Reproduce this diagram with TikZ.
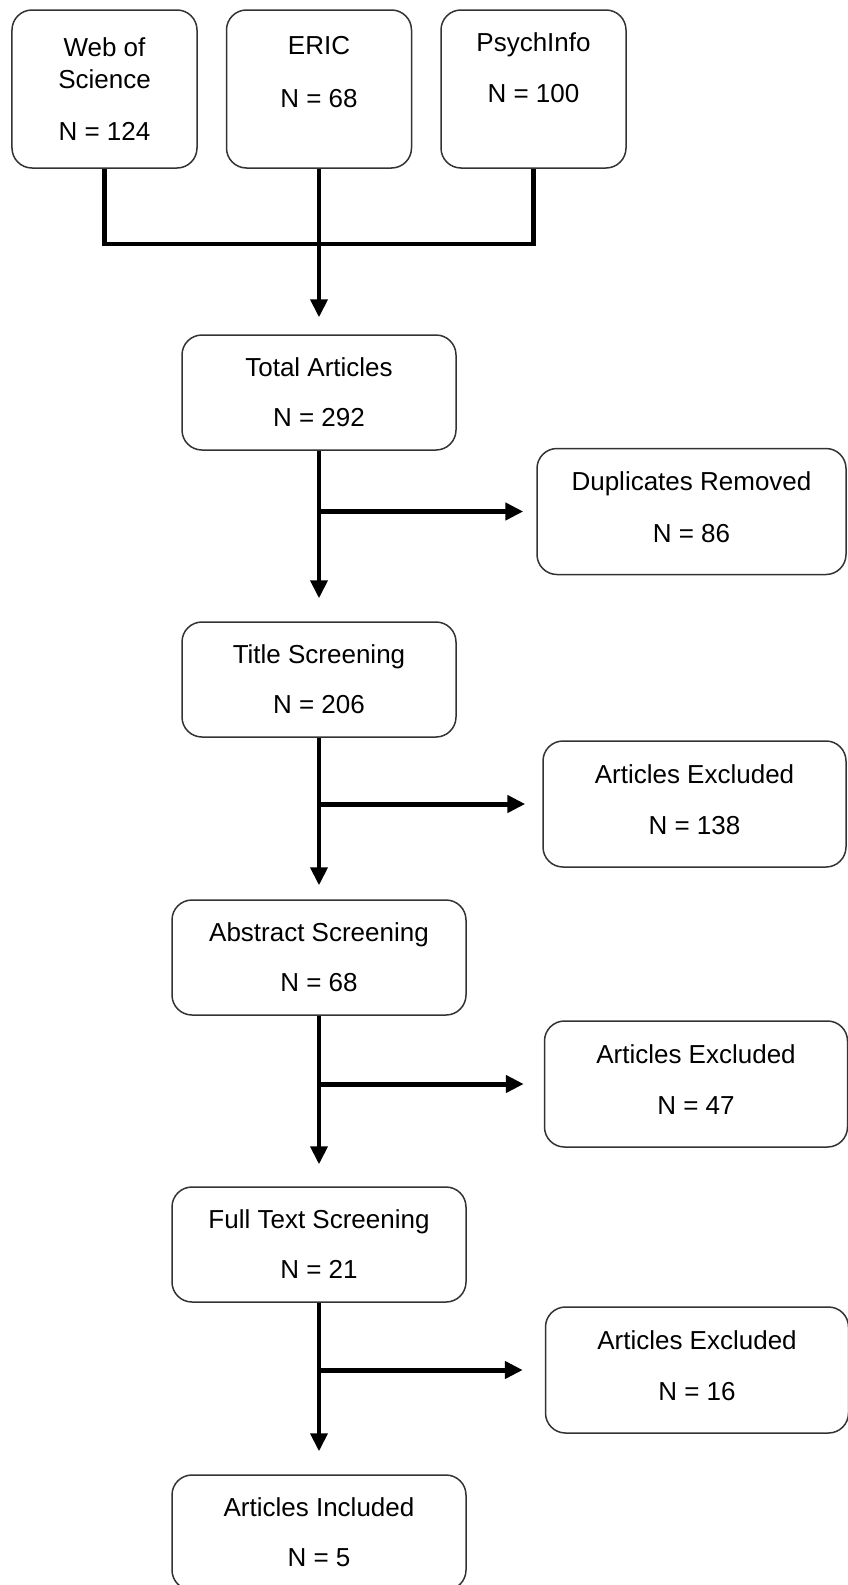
\documentclass[tikz,border=0pt]{standalone}
\usepackage{fontspec}
\setmainfont{Liberation Sans}
\usepackage{tikz}
\usetikzlibrary{arrows.meta, positioning}
\definecolor{boxline}{RGB}{51,51,51}
\tikzset{
  source/.style={
    draw=boxline, rectangle, rounded corners=20pt,
    minimum width=185pt, minimum height=158pt,
    fill=white, font=\fontsize{26pt}{32pt}\selectfont, align=center,
    line width=1.5pt
  },
  stage/.style={
    draw=boxline, rectangle, rounded corners=20pt,
    minimum width=274pt, minimum height=115pt,
    fill=white, font=\fontsize{26pt}{32pt}\selectfont, align=center,
    line width=1.5pt
  },
  widestage/.style={stage, minimum width=294pt},
  removed/.style={stage, minimum width=303pt, minimum height=126pt},
  flow/.style={-{Triangle[length=18pt, width=17pt]}, line width=4pt},
  branch/.style={flow, line width=5pt, shorten >=17pt},
  bracket/.style={line width=4.5pt}
}

\begin{document}
\begin{tikzpicture}[on grid]
  \node[source] (wos) {Web of\\Science\\[20pt]N = 124};
  \node[source, right=214.5pt of wos]  (eric)  {ERIC\\[21pt]N = 68\\[3pt]\mbox{}};
  \node[source, right=214.5pt of eric] (psych) {PsychInfo\\[19pt]N = 100\\[11pt]\mbox{}};
  \path[use as bounding box] (wos.center) ++(-104.5pt,89pt) rectangle ++(848pt,-1585pt);

  \node[stage, below=303.5pt of eric]      (total) {Total Articles\\[18pt]N = 292};
  \node[stage, below=287pt of total]       (title) {Title Screening\\[18pt]N = 206};
  \node[widestage, below=278pt of title]   (abstract) {Abstract Screening\\[18pt]N = 68};
  \node[widestage, below=287pt of abstract] (fulltext) {Full Text Screening\\[18pt]N = 21};
  \node[widestage, below=288pt of fulltext] (included) {Articles Included\\[18pt]N = 5};

  \node[removed, minimum width=309pt, below right=119pt and 372.5pt of total] (dupes) {Duplicates Removed\\[20pt]N = 86\\[-24pt]\mbox{}};
  \node[removed, below right=124.5pt and 375.5pt of title]  (excl1) {Articles Excluded\\[19pt]N = 138\\[-24pt]\mbox{}};
  \node[removed, below right=126.5pt and 377pt of abstract] (excl2) {Articles Excluded\\[19pt]N = 47\\[-24pt]\mbox{}};
  \node[removed, below right=125.5pt and 378pt of fulltext] (excl3) {Articles Excluded\\[19pt]N = 16\\[-24pt]\mbox{}};

  % databases -> total
  \draw[bracket] (wos.south) -- ++(0,-75pt) -| (psych.south);
  \draw[flow, shorten >=17pt] (eric.south) -- (total.north);

  % main column
  \draw[flow, shorten >=23pt] (total.south) -- (title.north);
  \draw[flow, shorten >=14pt] (title.south) -- (abstract.north);
  \draw[flow, shorten >=22pt] (abstract.south) -- (fulltext.north);
  \draw[flow, shorten >=23pt] (fulltext.south) -- (included.north);

  % exclusions
  \draw[branch, shorten >=13pt] (total.south |- dupes.west) -- (dupes.west);
  \draw[branch] (title.south |- excl1.west) -- (excl1.west);
  \draw[branch, shorten >=20pt] (abstract.south |- excl2.west) -- (excl2.west);
  \draw[branch, shorten >=22pt] (fulltext.south |- excl3.west) -- (excl3.west);
\end{tikzpicture}
\end{document}
